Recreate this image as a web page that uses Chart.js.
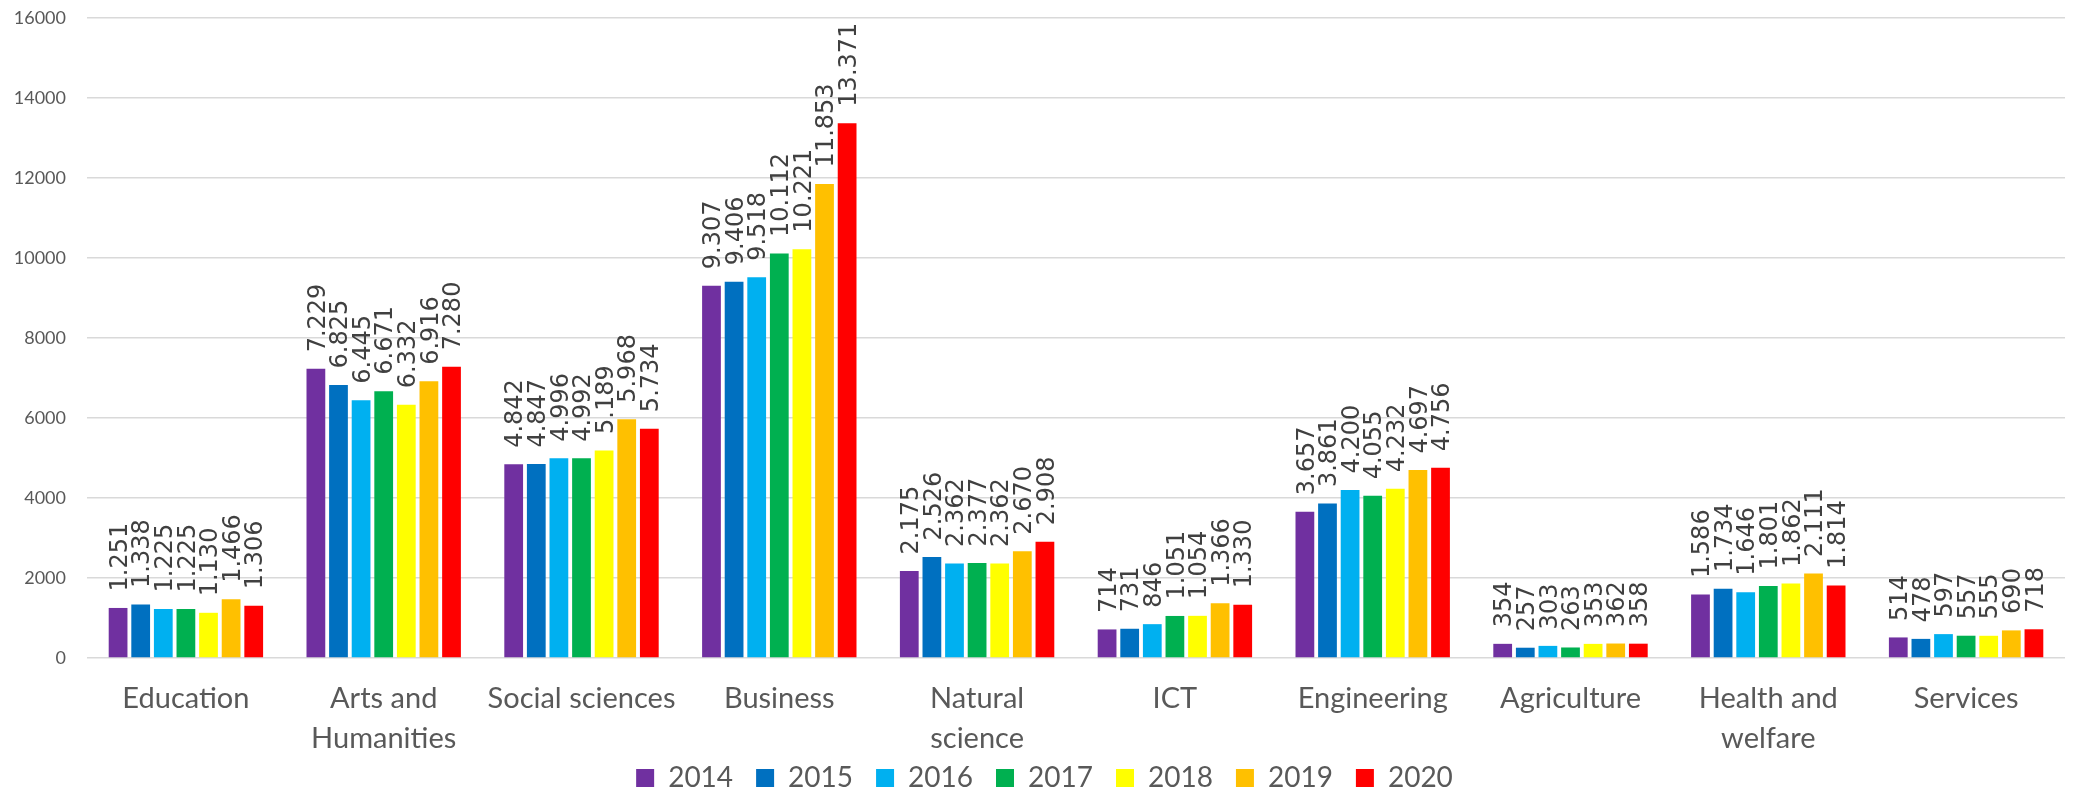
<!DOCTYPE html>
<html>
<head>
<meta charset="utf-8">
<script src="https://cdn.jsdelivr.net/npm/chart.js@4/dist/chart.umd.min.js"></script>
<style>
  html, body { margin: 0; padding: 0; background: #ffffff; }
  canvas { display: block; }
</style>
</head>
<body>
<canvas id="c" width="2073" height="792"></canvas>
<script>
const categories = [
  'Education',
  ['Arts and', 'Humanities'],
  'Social sciences',
  'Business',
  ['Natural', 'science'],
  'ICT',
  'Engineering',
  'Agriculture',
  ['Health and', 'welfare'],
  'Services'
];
const years = ['2014', '2015', '2016', '2017', '2018', '2019', '2020'];
const y2014 = [1251, 7229, 4842, 9307, 2175, 714, 3657, 354, 1586, 514];
const y2015 = [1338, 6825, 4847, 9406, 2526, 731, 3861, 257, 1734, 478];
const y2016 = [1225, 6445, 4996, 9518, 2362, 846, 4200, 303, 1646, 597];
const y2017 = [1225, 6671, 4992, 10112, 2377, 1051, 4055, 263, 1801, 557];
const y2018 = [1130, 6332, 5189, 10221, 2362, 1054, 4232, 353, 1862, 555];
const y2019 = [1466, 6916, 5968, 11853, 2670, 1366, 4697, 362, 2111, 690];
const y2020 = [1306, 7280, 5734, 13371, 2908, 1330, 4756, 358, 1814, 718];
const seriesValues = [y2014, y2015, y2016, y2017, y2018, y2019, y2020];
const colors = ['#7030A0', '#0070C0', '#00B0F0', '#00B050', '#FFFF00', '#FFC000', '#FF0000'];
const yTicks = { min: 0, max: 16000, step: 2000 };

function fmt(v) {
  if (v < 1000) return String(v);
  const t = Math.floor(v / 1000);
  const r = String(v % 1000).padStart(3, '0');
  return t + '.' + r;
}

const dataLabels = {
  id: 'dataLabels',
  afterDatasetsDraw(chart) {
    const ctx = chart.ctx;
    const fs = 24;
    ctx.save();
    ctx.font = fs + 'px "DejaVu Sans"';
    ctx.fillStyle = '#404040';
    ctx.textAlign = 'left';
    ctx.textBaseline = 'alphabetic';
    chart.data.datasets.forEach((ds, di) => {
      const meta = chart.getDatasetMeta(di);
      meta.data.forEach((el, i) => {
        const v = ds.data[i];
        ctx.save();
        ctx.translate(el.x + fs * 0.365, el.y - 16.5);
        ctx.rotate(-Math.PI / 2);
        ctx.fillText(fmt(v), 0, 0);
        ctx.restore();
      });
    });
    ctx.restore();
  }
};

const shiftLegend = {
  id: 'shiftLegend',
  afterLayout(chart) {
    const l = chart.legend;
    if (l) { l.left += 12; l.right += 12; l.top -= 23; }
  }
};

new Chart(document.getElementById('c'), {
  type: 'bar',
  data: {
    labels: categories,
    datasets: years.map((y, i) => ({
      label: y,
      data: seriesValues[i],
      backgroundColor: colors[i],
      borderWidth: 0,
      categoryPercentage: 0.8,
      barPercentage: 0.83
    }))
  },
  options: {
    responsive: false,
    animation: false,
    devicePixelRatio: 1,
    layout: { padding: { left: 0, right: 8, top: 18, bottom: 0 } },
    plugins: {
      tooltip: { enabled: false },
      legend: {
        position: 'bottom',
        maxHeight: 28,
        labels: {
          boxWidth: 18,
          boxHeight: 18,
          padding: 23,
          color: '#595959',
          font: { family: 'Lato', size: 28 }
        }
      }
    },
    scales: {
      x: {
        grid: { display: false, drawTicks: false },
        border: { display: false },
        ticks: {
          color: '#595959',
          padding: 21,
          maxRotation: 0,
          autoSkip: false,
          font: { family: 'Lato', size: 29, lineHeight: 40 / 29 }
        },
        afterFit(s) { s.height = 106; s.paddingTop = 0; s.paddingBottom = 0; }
      },
      y: {
        min: yTicks.min,
        max: yTicks.max,
        grid: { color: '#d9d9d9', lineWidth: 1.5, drawTicks: false },
        border: { display: false },
        ticks: {
          stepSize: yTicks.step,
          color: '#595959',
          padding: 21,
          font: { family: 'Lato', size: 18 },
          callback: (v) => String(v)
        },
        afterFit(s) { s.width = 87; s.paddingTop = 0; s.paddingBottom = 0; }
      }
    }
  },
  plugins: [dataLabels, shiftLegend]
});
</script>
</body>
</html>
